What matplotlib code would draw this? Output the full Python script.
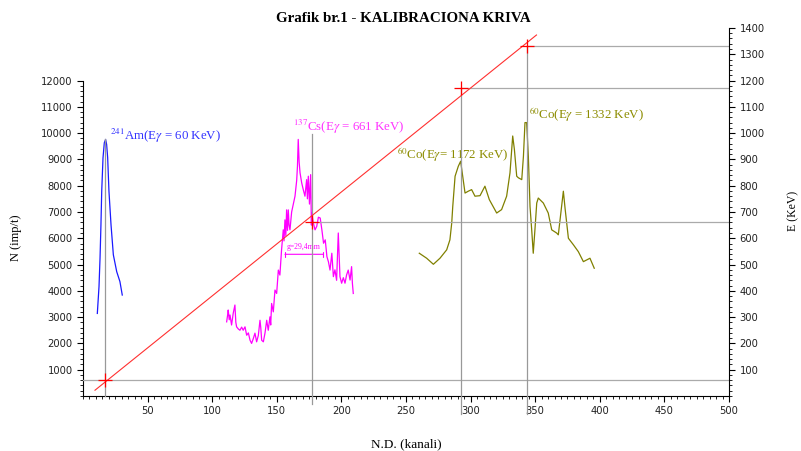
import numpy as np
import matplotlib
matplotlib.use('Agg')
import matplotlib.pyplot as plt
from matplotlib import ticker

plt.rcParams['mathtext.fontset'] = 'stix'

# spectra (channel, counts)
am_ch = [11.1, 12.4, 13.2, 13.9, 14.5, 15.5, 16.5, 17.5, 18.3, 19.1, 20.1, 21.7, 23.5, 26.1, 28.6, 30.4]
am_n = [3140, 4160, 5250, 6510, 7790, 9060, 9630, 9760, 9570, 9070, 7790, 6510, 5370, 4730, 4350, 3840]

cs_ch = [111.2, 112.0, 112.4, 113.2, 113.8, 115.0, 116.3, 117.6, 118.3, 118.9, 120.2, 121.5, 122.8,
         124.0, 125.4, 126.7, 128.0, 129.3, 130.5, 131.8, 133.1, 134.4, 135.7, 137.0, 137.6, 138.3,
         139.6, 140.9, 142.2, 143.4, 144.7, 145.3, 146.0, 147.3, 148.6, 149.9, 151.2, 152.4, 153.7,
         155.0, 155.6, 156.3, 157.0, 157.6, 158.3, 158.9, 159.5, 160.2, 161.5, 162.8, 164.1, 165.4,
         166.0, 166.6, 167.3, 168.0, 169.3, 170.5, 171.8, 173.1, 173.7, 174.4, 175.3, 176.2, 176.8,
         177.0, 178.3, 179.6, 180.9, 182.2, 183.6, 184.9, 186.2, 187.5, 188.8, 190.0, 191.2, 192.6,
         193.8, 195.0, 196.3, 197.6, 198.9, 200.2, 201.5, 202.8, 204.0, 205.3, 206.7, 207.9, 208.5, 209.2]
cs_n = [2820, 3100, 3270, 2900, 3080, 2700, 3150, 3460, 2800, 2630, 2550, 2500, 2620,
        2500, 2630, 2310, 2400, 2120, 2000, 2180, 2390, 2060, 2300, 2880, 2600, 2120,
        2060, 2400, 2880, 2500, 3010, 2700, 3520, 3200, 4030, 3900, 4790, 4600, 5560,
        6320, 5900, 6700, 6100, 7080, 6300, 7080, 6500, 6320, 7000, 7300, 7600, 8200,
        8740, 9760, 8900, 8490, 8100, 7850, 7600, 8230, 7500, 8360, 7300, 8420, 6500,
        6970, 6580, 6320, 6450, 6800, 6770, 6320, 5810, 5940, 5300, 5100, 4790, 5430,
        4540, 4800, 4400, 6200, 4540, 4290, 4500, 4290, 4600, 4790, 4410, 4920, 4300, 3900]

co_ch = [260.3, 266.0, 271.2, 276.3, 281.5, 284.0, 285.4, 286.2, 288.0, 290.5, 292.3, 293.9, 295.7,
         298.2, 300.8, 303.4, 307.3, 311.1, 314.5, 320.2, 324.0, 327.9, 330.5, 332.6, 333.9, 335.7,
         337.0, 339.6, 340.9, 342.1, 343.4, 344.7, 346.0, 347.3, 348.5, 349.8, 351.2, 352.4, 356.3,
         360.1, 362.8, 366.6, 367.9, 371.8, 373.1, 375.7, 379.6, 383.4, 387.3, 392.4, 395.7]
co_n = [5430, 5240, 5010, 5240, 5560, 5940, 6580, 7210, 8360, 8740, 8930, 8360, 7720,
        7790, 7850, 7600, 7620, 7980, 7470, 6960, 7090, 7600, 8490, 9890, 9380, 8360,
        8300, 8230, 9120, 10400, 10400, 9120, 7210, 6320, 5430, 6320, 7340, 7530, 7340,
        6960, 6320, 6200, 6130, 7790, 7150, 6000, 5750, 5490, 5110, 5240, 4860]

# calibration points (channel, energy keV)
cal_ch = [17.0, 177.0, 292.5, 344.0]
cal_e = [60, 661, 1172, 1332]
vline_top = [976, 995, 1172, 1332]
vline_bot = [0, -30, -67, -67]
hline_start = [0, 177.0, 292.5, 344.0]
fit_range = [9.3, 351.0]

labels = [r'$^{241}$Am(E$\gamma$ = 60 KeV)', r'$^{137}$Cs(E$\gamma$ = 661 KeV)',
          r'$^{60}$Co(E$\gamma$= 1172 KeV)', r'$^{60}$Co(E$\gamma$ = 1332 KeV)']
label_pos = [(20.9, 9875), (162.5, 10245), (243.0, 9190), (345.0, 10710)]
label_col = ['#3333ff', '#ff33ff', '#8c8c00', '#8c8c00']

fwhm = (156.3, 185.8, 5390)

fig = plt.figure(figsize=(8.01, 4.51), dpi=100)
ax = fig.add_axes([0.1036, 0.122, 0.8065, 0.816])
ax2 = ax.twinx()

ax.set_xlim(0, 500)
ax.set_ylim(0, 14000)
ax2.set_ylim(0, 1400)

for s in ['top', 'right']:
    ax.spines[s].set_visible(False)
for s in ['top', 'left', 'bottom']:
    ax2.spines[s].set_visible(False)
ax.spines['left'].set_bounds(0, 12000)
for a in (ax, ax2):
    for s in a.spines.values():
        s.set_linewidth(0.8)

ax.set_xticks(np.arange(50, 501, 50))
ax.xaxis.set_minor_locator(ticker.MultipleLocator(5))
ax.set_yticks(np.arange(1000, 12001, 1000))
ax.yaxis.set_minor_locator(ticker.FixedLocator(np.arange(0, 12001, 200)))
ax2.set_yticks(np.arange(100, 1401, 100))
ax2.yaxis.set_minor_locator(ticker.MultipleLocator(20))
for a in (ax, ax2):
    a.tick_params(which='major', length=4, width=0.8, labelsize=7.2, labelcolor='#222222')
    a.tick_params(which='minor', length=2, width=0.6)

# spectra
ax.plot(am_ch, am_n, color='#1a1aff', lw=0.9)
ax.plot(cs_ch, cs_n, color='#ff00ff', lw=0.9)
ax.plot(co_ch, co_n, color='#808000', lw=0.9)

# reference lines
for i in range(len(cal_ch)):
    ax2.plot([cal_ch[i], cal_ch[i]], [vline_bot[i], vline_top[i]], color='#999999', lw=0.9,
             clip_on=False, zorder=1)
    ax2.plot([hline_start[i], 500], [cal_e[i], cal_e[i]], color='#aaaaaa', lw=0.9, zorder=1)

# calibration fit
k, b = np.polyfit(cal_ch, cal_e, 1)
xf = np.array(fit_range)
ax2.plot(xf, k * xf + b, color='#ff3030', lw=0.8)
ax2.plot(cal_ch, cal_e, '+', color='red', markersize=10, markeredgewidth=0.9)

# peak labels
for txt, (x, y), c in zip(labels, label_pos, label_col):
    ax.text(x, y, txt, color=c, fontsize=9.3, family='Liberation Serif', va='center', ha='left')

# FWHM marker
ax.annotate('', xy=(fwhm[0], fwhm[2]), xytext=(fwhm[1], fwhm[2]),
            arrowprops=dict(arrowstyle='|-|,widthA=0.2,widthB=0.2', color='#ff00ff', lw=0.8,
                            shrinkA=0, shrinkB=0))
ax.text((fwhm[0] + fwhm[1]) / 2, fwhm[2] + 120, 'g=29,4mm', color='#ff00ff', fontsize=5.5,
        family='Liberation Serif', ha='center', va='bottom')

fig.text(0.504, 0.958, 'Grafik br.1 - KALIBRACIONA KRIVA', ha='center', va='center',
         fontsize=10.8, fontweight='bold', family='Liberation Serif')
fig.text(0.507, 0.016, 'N.D. (kanali)', ha='center', va='center', fontsize=9.5,
         family='Liberation Serif')
fig.text(0.02, 0.472, 'N (imp/t)', ha='center', va='center', rotation=90, fontsize=9,
         family='Liberation Serif')
fig.text(0.99, 0.532, 'E (KeV)', ha='center', va='center', rotation=90, fontsize=8.5,
         family='Liberation Serif')

fig.savefig('out.png', dpi=100)
